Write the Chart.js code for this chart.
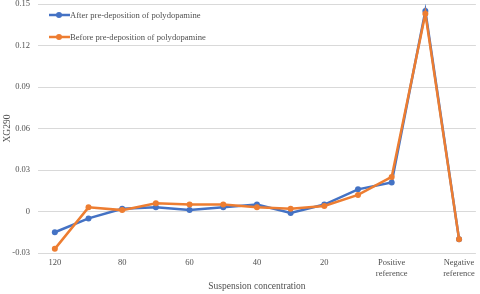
<!DOCTYPE html>
<html>
<head>
<meta charset="utf-8">
<script src="https://cdn.jsdelivr.net/npm/chart.js@4/dist/chart.umd.min.js"></script>
<style>
  html, body { margin: 0; padding: 0; background: #fff; }
  #wrap { width: 480px; height: 294px; }
</style>
</head>
<body>
<div id="wrap"><canvas id="c" width="480" height="294"></canvas></div>
<script>
// categories (only every other one carries a label in the original)
const categories = ['120', '', '80', '', '60', '', '40', '', '20', '', ['Positive', 'reference'], '', ['Negative', 'reference']];
const afterPda  = [-0.015, -0.005, 0.002, 0.003, 0.001, 0.003, 0.005, -0.001, 0.005, 0.016, 0.021, 0.145, -0.020];
const beforePda = [-0.027, 0.003, 0.001, 0.006, 0.005, 0.005, 0.003, 0.002, 0.004, 0.012, 0.025, 0.143, -0.020];
const yTicks = [-0.03, 0, 0.03, 0.06, 0.09, 0.12, 0.15];

const FONT = 'Liberation Serif';
const TEXT = '#505050';
const BLUE = '#4472c4';
const ORANGE = '#ed7d31';

// legend drawn inside the plot area, stacked, like the Excel original
const innerLegend = {
  id: 'innerLegend',
  afterDraw(chart) {
    const ctx = chart.ctx;
    const a = chart.chartArea;
    ctx.save();
    ctx.font = '8.6px "' + FONT + '"';
    ctx.textBaseline = 'middle';
    chart.data.datasets.forEach((ds, i) => {
      const y = a.top + 11 + i * 22;
      const x0 = a.left + 11;
      ctx.strokeStyle = ds.borderColor;
      ctx.lineWidth = 2.5;
      ctx.beginPath();
      ctx.moveTo(x0, y);
      ctx.lineTo(x0 + 21, y);
      ctx.stroke();
      ctx.fillStyle = ds.borderColor;
      ctx.beginPath();
      ctx.arc(x0 + 10, y, 3, 0, Math.PI * 2);
      ctx.fill();
      ctx.fillStyle = TEXT;
      ctx.fillText(ds.label, x0 + 21, y + 0.5);
    });
    ctx.restore();
  }
};

new Chart(document.getElementById('c'), {
  type: 'line',
  data: {
    labels: categories,
    datasets: [
      {
        label: 'After pre-deposition of polydopamine',
        data: afterPda,
        order: 1,
        borderColor: BLUE,
        backgroundColor: BLUE,
        borderWidth: 2.5,
        pointRadius: 3,
        pointBackgroundColor: BLUE,
        pointBorderWidth: 0,
        tension: 0,
      },
      {
        label: 'Before pre-deposition of polydopamine',
        data: beforePda,
        order: 0,
        borderColor: ORANGE,
        backgroundColor: ORANGE,
        borderWidth: 2.5,
        pointRadius: 3,
        pointBackgroundColor: ORANGE,
        pointBorderWidth: 0,
        tension: 0,
      }
    ]
  },
  options: {
    responsive: false,
    animation: false,
    devicePixelRatio: 1,
    layout: { padding: { top: 4, right: 0, left: 0, bottom: 0 } },
    plugins: {
      legend: { display: false },
      tooltip: { enabled: false }
    },
    scales: {
      x: {
        offset: true,
        afterFit: axis => { axis.height = 41; },
        grid: { display: false, drawTicks: false },
        border: { display: false },
        ticks: {
          color: TEXT,
          font: { family: FONT, size: 8.5 },
          autoSkip: false,
          maxRotation: 0,
          padding: 5,
        },
        title: {
          display: true,
          text: 'Suspension concentration',
          color: TEXT,
          font: { family: FONT, size: 9.5 },
          padding: { top: 1, bottom: 2 }
        }
      },
      y: {
        min: -0.03,
        max: 0.15,
        afterBuildTicks: axis => { axis.ticks = yTicks.map(v => ({ value: v })); },
        afterFit: axis => { axis.width = 38; axis.paddingTop = 0; axis.paddingBottom = 0; },
        grid: { color: '#d9d9d9', lineWidth: 1, drawTicks: false },
        border: { display: false },
        ticks: {
          color: TEXT,
          font: { family: FONT, size: 8.5 },
          padding: 8,
          callback: v => String(Math.round(v * 100) / 100)
        },
        title: {
          display: true,
          text: 'XG290',
          color: TEXT,
          font: { family: FONT, size: 9.5 },
          padding: { top: 2, bottom: 0 }
        }
      }
    }
  },
  plugins: [innerLegend]
});
</script>
</body>
</html>
